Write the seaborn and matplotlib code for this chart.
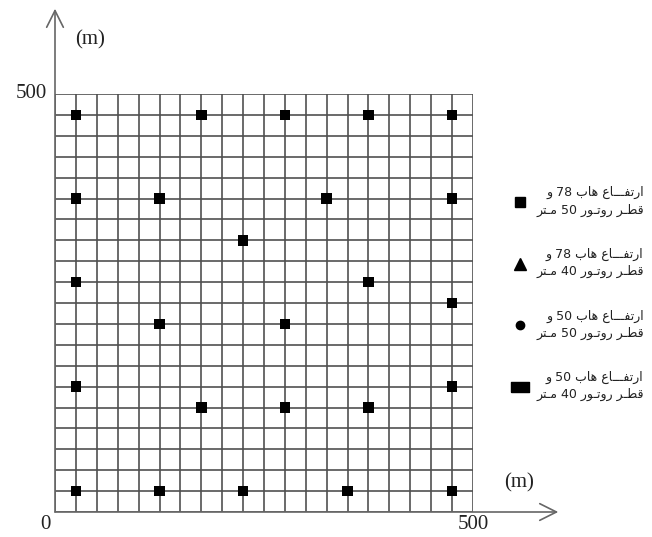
import re
import matplotlib.pyplot as plt
import seaborn as sns
import pandas as pd
from matplotlib.lines import Line2D

# turbine positions (m)
turbine_x = [25, 175, 275, 375, 475,
             25, 125, 325, 475,
             225,
             25, 375,
             475,
             125, 275,
             25, 475,
             175, 275, 375,
             25, 125, 225, 350, 475]
turbine_y = [475, 475, 475, 475, 475,
             375, 375, 375, 375,
             325,
             275, 275,
             250,
             225, 225,
             150, 150,
             125, 125, 125,
             25, 25, 25, 25, 25]

legend_labels = [
    ("ارتفـــاع هاب 78 و", "قطـر روتـور 50 مـتر"),
    ("ارتفـــاع هاب 78 و", "قطـر روتـور 40 مـتر"),
    ("ارتفـــاع هاب 50 و", "قطـر روتـور 50 مـتر"),
    ("ارتفـــاع هاب 50 و", "قطـر روتـور 40 مـتر"),
]

# arabic letter forms: isolated, final, initial, medial
FORMS = {
    "ا": ("\uFE8D", "\uFE8E", None, None),
    "ب": ("\uFE8F", "\uFE90", "\uFE91", "\uFE92"),
    "ت": ("\uFE95", "\uFE96", "\uFE97", "\uFE98"),
    "ر": ("\uFEAD", "\uFEAE", None, None),
    "ط": ("\uFEC1", "\uFEC2", "\uFEC3", "\uFEC4"),
    "ع": ("\uFEC9", "\uFECA", "\uFECB", "\uFECC"),
    "ف": ("\uFED1", "\uFED2", "\uFED3", "\uFED4"),
    "ق": ("\uFED5", "\uFED6", "\uFED7", "\uFED8"),
    "م": ("\uFEE1", "\uFEE2", "\uFEE3", "\uFEE4"),
    "ه": ("\uFEE9", "\uFEEA", "\uFEEB", "\uFEEC"),
    "و": ("\uFEED", "\uFEEE", None, None),
}
TATWEEL = "ـ"


def shape(s):
    # matplotlib has no arabic shaping / rtl, do it by hand
    out = []
    for i, c in enumerate(s):
        if c not in FORMS:
            out.append(c)
            continue
        prev = s[i - 1] if i > 0 else ""
        nxt = s[i + 1] if i + 1 < len(s) else ""
        jp = prev == TATWEEL or (prev in FORMS and FORMS[prev][2] is not None)
        jn = FORMS[c][2] is not None and (nxt == TATWEEL or nxt in FORMS)
        iso, fin, ini, med = FORMS[c]
        out.append(med if jp and jn else fin if jp else ini if jn else iso)
    vis = "".join(out)[::-1]
    return re.sub(r"\d+", lambda m: m.group(0)[::-1], vis)


sns.set_style("white")
plt.rcParams["font.family"] = ["Liberation Serif", "DejaVu Serif"]

W, H = 652, 537
fig = plt.figure(figsize=(W / 100, H / 100), dpi=100)
ax = fig.add_axes([55 / W, 25 / H, 418 / W, 418 / H])

df = pd.DataFrame({"x": turbine_x, "y": turbine_y})

ax.set_xlim(0, 500)
ax.set_ylim(0, 500)
ax.set_xticks(range(0, 501, 25))
ax.set_yticks(range(0, 501, 25))
ax.tick_params(length=0, labelbottom=False, labelleft=False)
ax.grid(True, color="#505050", linewidth=1.2)
ax.set_axisbelow(True)
for s in ax.spines.values():
    s.set_visible(False)

sns.scatterplot(data=df, x="x", y="y", marker="s", s=60, color="black",
                edgecolor="none", legend=False, ax=ax, clip_on=False, zorder=3)
ax.set_xlabel("")
ax.set_ylabel("")

# axes with arrows
arrow = dict(arrowstyle="->", color="#666666", lw=1.2, mutation_scale=30,
             shrinkA=0, shrinkB=0)
ax.annotate("", xy=(0, 602), xytext=(0, 0), arrowprops=arrow, annotation_clip=False)
ax.annotate("", xy=(602, 0), xytext=(0, 0), arrowprops=arrow, annotation_clip=False)

tk = dict(fontsize=15, color="#222222", clip_on=False)
ax.text(-10, 500, "500", ha="right", va="center", **tk)
ax.text(-12, -15, "0", ha="center", va="center", **tk)
ax.text(500, -15, "500", ha="center", va="center", **tk)
ax.text(42, 565, "(m)", ha="center", va="center", **tk)
ax.text(555, 35, "(m)", ha="center", va="center", **tk)

wide = [(-1.7, -1), (1.7, -1), (1.7, 1), (-1.7, 1), (-1.7, -1)]
handles = [
    Line2D([], [], ls="", marker="s", color="black", markersize=7),
    Line2D([], [], ls="", marker="^", color="black", markersize=8),
    Line2D([], [], ls="", marker="o", color="black", markersize=6),
    Line2D([], [], ls="", marker=wide, color="black", markersize=13),
]
labels = [shape(a) + "\n" + shape(b) for a, b in legend_labels]
leg = fig.legend(handles, labels, loc="upper left", bbox_to_anchor=(506 / W, 1 - 180 / H),
                 frameon=False, handlelength=1.2, handletextpad=0.7, labelspacing=2.5,
                 borderpad=0, prop={"family": ["DejaVu Sans"], "size": 9})
for t in leg.get_texts():
    t.set_linespacing(1.4)
    t.set_color("#222222")
    t.set_multialignment("right")

fig.savefig("out.png", dpi=100)
